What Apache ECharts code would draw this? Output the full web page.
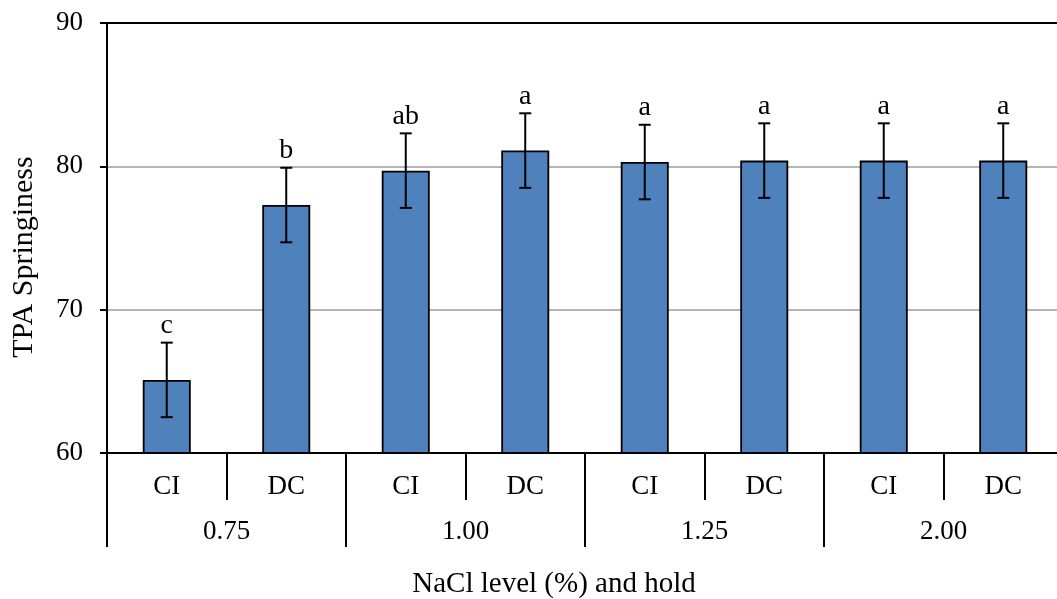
<!DOCTYPE html>
<html>
<head>
<meta charset="utf-8">
<script src="https://cdn.jsdelivr.net/npm/echarts@6/dist/echarts.min.js"></script>
<style>
  html, body { margin: 0; padding: 0; background: #fff; }
  #chart { width: 1057px; height: 599px; }
</style>
</head>
<body>
<div id="chart"></div>
<script>
// Hold method within each NaCl level
var holds = ['CI', 'DC', 'CI', 'DC', 'CI', 'DC', 'CI', 'DC'];
// NaCl levels (%), each spanning two hold bars
var levels = ['0.75', '1.00', '1.25', '2.00'];
// Mean TPA springiness per bar
var springiness = [65.1, 77.3, 79.7, 81.1, 80.3, 80.4, 80.4, 80.4];
// Standard deviation per bar
var deviation = [2.6, 2.6, 2.6, 2.6, 2.6, 2.6, 2.6, 2.6];
// Significance letters
var letters = ['c', 'b', 'ab', 'a', 'a', 'a', 'a', 'a'];
// Y axis range and step
var yMin = 60, yMax = 90, yStep = 10;

var FONT = '"Liberation Serif", "Times New Roman", serif';
var BLACK = '#000000';

var errorData = springiness.map(function (v, i) {
  return [i, v - deviation[i], v + deviation[i]];
});

var chart = echarts.init(document.getElementById('chart'));

chart.setOption({
  animation: false,
  backgroundColor: '#ffffff',
  grid: {
    left: 107, top: 23, width: 956, height: 430,
    containLabel: false,
    outerBoundsMode: 'none'
  },
  xAxis: [
    {
      type: 'category',
      data: holds,
      position: 'bottom',
      axisLine: { show: true, lineStyle: { color: BLACK, width: 2 } },
      axisTick: { show: true, length: 47, interval: 0, lineStyle: { color: BLACK, width: 2 } },
      axisLabel: { interval: 0, margin: 20, fontSize: 27, fontFamily: FONT, color: BLACK },
      splitLine: { show: false }
    },
    {
      type: 'category',
      data: levels,
      position: 'bottom',
      offset: 0,
      axisLine: { show: false },
      axisTick: { show: true, length: 94, interval: 0, lineStyle: { color: BLACK, width: 2 } },
      axisLabel: { interval: 0, margin: 65, fontSize: 27, fontFamily: FONT, color: BLACK },
      splitLine: { show: false }
    },
    {
      type: 'category',
      data: holds,
      position: 'top',
      axisLine: { show: true, lineStyle: { color: BLACK, width: 2 } },
      axisTick: { show: false },
      axisLabel: { show: false },
      splitLine: { show: false }
    }
  ],
  yAxis: {
    type: 'value',
    min: yMin,
    max: yMax,
    interval: yStep,
    axisLine: { show: true, lineStyle: { color: BLACK, width: 2 } },
    axisTick: { show: true, length: 7, lineStyle: { color: BLACK, width: 2 } },
    axisLabel: { margin: 24, fontSize: 27, fontFamily: FONT, color: BLACK },
    splitLine: { show: true, lineStyle: { color: '#9c9c9c', width: 1.5 } }
  },
  series: [
    {
      type: 'bar',
      xAxisIndex: 0,
      data: springiness,
      barWidth: 48,
      itemStyle: { color: '#4f81bd', borderColor: BLACK, borderWidth: 1.8 },
      z: 2
    },
    {
      type: 'custom',
      xAxisIndex: 0,
      data: errorData,
      z: 5,
      renderItem: function (params, api) {
        var i = api.value(0);
        var hi = api.coord([i, api.value(2)]);
        var lo = api.coord([i, api.value(1)]);
        var cap = 6;
        var ls = { stroke: BLACK, lineWidth: 2 };
        return {
          type: 'group',
          children: [
            { type: 'line', shape: { x1: hi[0], y1: hi[1], x2: lo[0], y2: lo[1] }, style: ls },
            { type: 'line', shape: { x1: hi[0] - cap, y1: hi[1], x2: hi[0] + cap, y2: hi[1] }, style: ls },
            { type: 'line', shape: { x1: lo[0] - cap, y1: lo[1], x2: lo[0] + cap, y2: lo[1] }, style: ls },
            {
              type: 'text',
              x: hi[0],
              y: hi[1] - 3,
              style: {
                text: letters[params.dataIndex],
                textAlign: 'center',
                textVerticalAlign: 'bottom',
                font: '28px ' + FONT,
                fill: BLACK
              }
            }
          ]
        };
      }
    }
  ],
  graphic: [
    {
      type: 'text',
      x: 24,
      y: 257,
      rotation: Math.PI / 2,
      style: {
        text: 'TPA Springiness',
        textAlign: 'center',
        textVerticalAlign: 'middle',
        font: '30px ' + FONT,
        fill: BLACK
      }
    },
    {
      type: 'text',
      x: 554,
      y: 584,
      style: {
        text: 'NaCl level (%) and hold',
        textAlign: 'center',
        textVerticalAlign: 'middle',
        font: '29px ' + FONT,
        fill: BLACK
      }
    }
  ]
});
</script>
</body>
</html>
